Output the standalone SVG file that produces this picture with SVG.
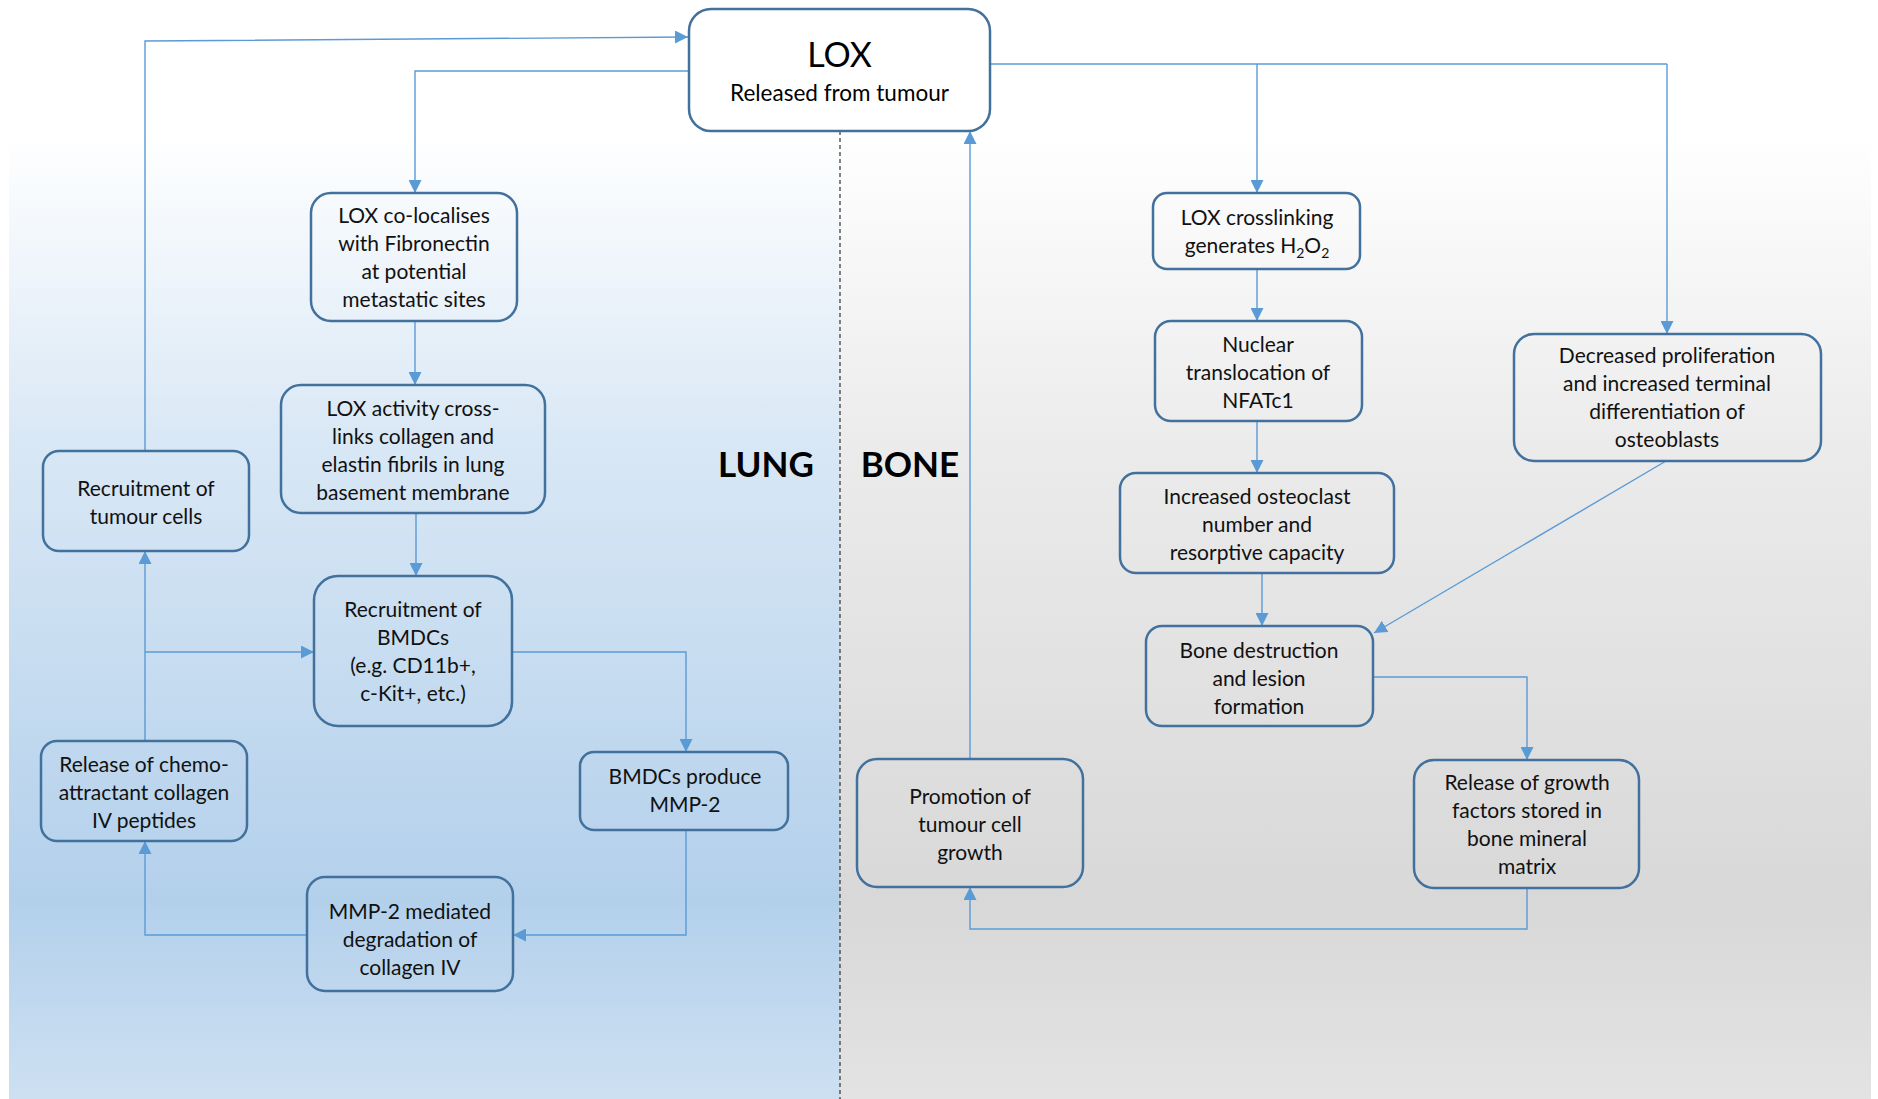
<svg xmlns="http://www.w3.org/2000/svg" width="1878" height="1099" viewBox="0 0 1878 1099">
<defs>
<linearGradient id="gLung" x1="0" y1="0" x2="0" y2="1">
<stop offset="0" stop-color="#ffffff"/>
<stop offset="0.12" stop-color="#ffffff"/>
<stop offset="0.41" stop-color="#d8e7f5"/>
<stop offset="0.82" stop-color="#b3d0eb"/>
<stop offset="1" stop-color="#cde0f2"/>
</linearGradient>
<linearGradient id="gBone" x1="0" y1="0" x2="0" y2="1">
<stop offset="0" stop-color="#ffffff"/>
<stop offset="0.12" stop-color="#ffffff"/>
<stop offset="0.41" stop-color="#ebebeb"/>
<stop offset="0.82" stop-color="#d8d8d8"/>
<stop offset="1" stop-color="#e3e3e3"/>
</linearGradient>
<marker id="arr" markerUnits="userSpaceOnUse" markerWidth="14" markerHeight="13" refX="13" refY="6.5" orient="auto">
<path d="M0,0 L13,6.5 L0,13 z" fill="#5b9bd5"/>
</marker>
<style>
.node{fill:none;stroke:#41719c;stroke-width:2.5}
.lox{fill:#ffffff;stroke:#41719c;stroke-width:2.5}
.t{font-family:Lato,"Liberation Sans",sans-serif;font-size:21px;fill:#111111;text-anchor:middle}
.c{fill:none;stroke:#5b9bd5;stroke-width:1.4;marker-end:url(#arr)}
.cn{fill:none;stroke:#5b9bd5;stroke-width:1.4}
.big{font-family:Lato,"Liberation Sans",sans-serif;font-size:35px;font-weight:bold;fill:#000;text-anchor:middle}
</style>
</defs>
<rect x="0" y="0" width="1878" height="1099" fill="#ffffff"/>
<rect x="9" y="0" width="831" height="1099" fill="url(#gLung)"/>
<rect x="840" y="0" width="1031" height="1099" fill="url(#gBone)"/>
<line x1="840" y1="131" x2="840" y2="1099" stroke="#333333" stroke-width="1.2" stroke-dasharray="4,3"/>
<text class="big" x="766" y="477">LUNG</text>
<text class="big" x="910" y="477">BONE</text>

<g id="connectors">
<path class="c" d="M145,451 L145,41 L688,37"/>
<path class="c" d="M689,71 L415,71 L415,193"/>
<path class="c" d="M415,321 L415,385"/>
<path class="c" d="M416,513 L416,576"/>
<path class="c" d="M145,741 L145,551"/>
<path class="c" d="M145,652 L314,652"/>
<path class="c" d="M512,652 L686,652 L686,752"/>
<path class="c" d="M686,830 L686,935 L513,935"/>
<path class="c" d="M307,935 L145,935 L145,841"/>
<path class="cn" d="M990,64 L1667,64"/>
<path class="c" d="M1667,64 L1667,334"/>
<path class="c" d="M1257,64 L1257,193"/>
<path class="c" d="M1257,269 L1257,321"/>
<path class="c" d="M1257,421 L1257,473"/>
<path class="c" d="M1262,573 L1262,626"/>
<path class="c" d="M1666,461 L1374,633"/>
<path class="c" d="M1373,677 L1527,677 L1527,760"/>
<path class="c" d="M1527,888 L1527,929 L970,929 L970,887"/>
<path class="c" d="M970,759 L970,131"/>
</g>

<g id="lox">
<rect class="lox" x="689" y="9" width="301" height="122" rx="22"/>
<text class="t" x="839.5" y="67" style="font-size:34px;fill:#000">LOX</text>
<text class="t" x="839.5" y="101" style="font-size:22.5px;fill:#000">Released from tumour</text>
</g>

<g id="colocalise">
<rect class="node" x="311" y="193" width="206" height="128" rx="20"/>
<text class="t" x="414" y="223">LOX co-localises</text>
<text class="t" x="414" y="251">with Fibronectin</text>
<text class="t" x="414" y="279">at potential</text>
<text class="t" x="414" y="307">metastatic sites</text>
</g>

<g id="activity">
<rect class="node" x="281" y="385" width="264" height="128" rx="20"/>
<text class="t" x="413" y="416">LOX activity cross-</text>
<text class="t" x="413" y="444">links collagen and</text>
<text class="t" x="413" y="472">elastin fibrils in lung</text>
<text class="t" x="413" y="500">basement membrane</text>
</g>

<g id="tumourcells">
<rect class="node" x="43" y="451" width="206" height="100" rx="16"/>
<text class="t" x="146" y="496">Recruitment of</text>
<text class="t" x="146" y="524">tumour cells</text>
</g>

<g id="bmdcs">
<rect class="node" x="314" y="576" width="198" height="150" rx="24"/>
<text class="t" x="413" y="617">Recruitment of</text>
<text class="t" x="413" y="645">BMDCs</text>
<text class="t" x="413" y="673">(e.g. CD11b+,</text>
<text class="t" x="413" y="701">c-Kit+, etc.)</text>
</g>

<g id="chemo">
<rect class="node" x="41" y="741" width="206" height="100" rx="16"/>
<text class="t" x="144" y="772">Release of chemo-</text>
<text class="t" x="144" y="800">attractant collagen</text>
<text class="t" x="144" y="828">IV peptides</text>
</g>

<g id="mmp2">
<rect class="node" x="580" y="752" width="208" height="78" rx="14"/>
<text class="t" x="685" y="784">BMDCs produce</text>
<text class="t" x="685" y="812">MMP-2</text>
</g>

<g id="degradation">
<rect class="node" x="307" y="877" width="206" height="114" rx="18"/>
<text class="t" x="410" y="919">MMP-2 mediated</text>
<text class="t" x="410" y="947">degradation of</text>
<text class="t" x="410" y="975">collagen IV</text>
</g>

<g id="crosslinking">
<rect class="node" x="1153" y="193" width="207" height="76" rx="14"/>
<text class="t" x="1257" y="225">LOX crosslinking</text>
<text class="t" x="1257" y="253">generates H<tspan font-size="14" dy="5">2</tspan><tspan dy="-5">O</tspan><tspan font-size="14" dy="5">2</tspan></text>
</g>

<g id="nfatc1">
<rect class="node" x="1155" y="321" width="207" height="100" rx="16"/>
<text class="t" x="1258" y="352">Nuclear</text>
<text class="t" x="1258" y="380">translocation of</text>
<text class="t" x="1258" y="408">NFATc1</text>
</g>

<g id="osteoblasts">
<rect class="node" x="1514" y="334" width="307" height="127" rx="20"/>
<text class="t" x="1667" y="363">Decreased proliferation</text>
<text class="t" x="1667" y="391">and increased terminal</text>
<text class="t" x="1667" y="419">differentiation of</text>
<text class="t" x="1667" y="447">osteoblasts</text>
</g>

<g id="osteoclast">
<rect class="node" x="1120" y="473" width="274" height="100" rx="16"/>
<text class="t" x="1257" y="504">Increased osteoclast</text>
<text class="t" x="1257" y="532">number and</text>
<text class="t" x="1257" y="560">resorptive capacity</text>
</g>

<g id="destruction">
<rect class="node" x="1146" y="626" width="227" height="100" rx="16"/>
<text class="t" x="1259" y="658">Bone destruction</text>
<text class="t" x="1259" y="686">and lesion</text>
<text class="t" x="1259" y="714">formation</text>
</g>

<g id="promotion">
<rect class="node" x="857" y="759" width="226" height="128" rx="20"/>
<text class="t" x="970" y="804">Promotion of</text>
<text class="t" x="970" y="832">tumour cell</text>
<text class="t" x="970" y="860">growth</text>
</g>

<g id="growthfactors">
<rect class="node" x="1414" y="760" width="225" height="128" rx="20"/>
<text class="t" x="1527" y="790">Release of growth</text>
<text class="t" x="1527" y="818">factors stored in</text>
<text class="t" x="1527" y="846">bone mineral</text>
<text class="t" x="1527" y="874">matrix</text>
</g>
</svg>
